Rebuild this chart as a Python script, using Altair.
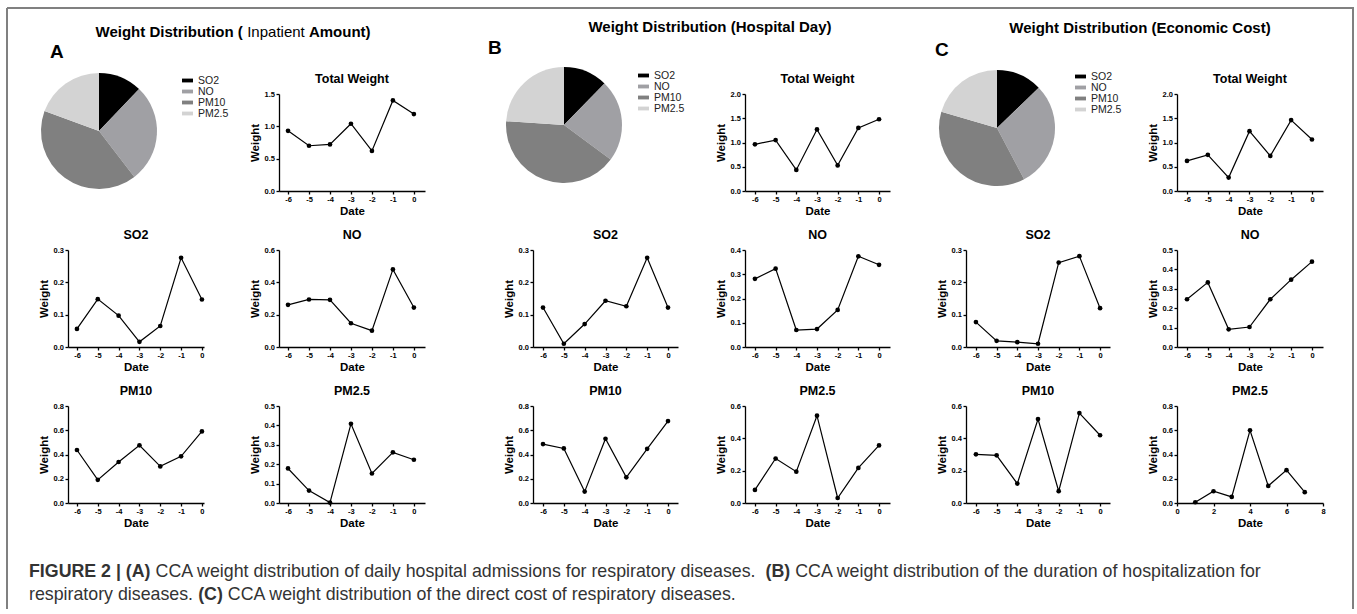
import altair as alt
import pandas as pd

FONT = "Liberation Sans"

dates = [-6, -5, -4, -3, -2, -1, 0]
dates_c_pm25 = [1, 2, 3, 4, 5, 6, 7]
pollutants = ["SO2", "NO", "PM10", "PM2.5"]
pie_colors = ["#000000", "#a0a0a4", "#808080", "#d3d3d3"]

# Panel A (Inpatient Amount)
a_total = [0.93, 0.70, 0.72, 1.04, 0.62, 1.40, 1.19]
a_so2 = [0.056, 0.148, 0.097, 0.016, 0.065, 0.276, 0.147]
a_no = [0.261, 0.294, 0.292, 0.147, 0.101, 0.480, 0.244]
a_pm10 = [0.437, 0.191, 0.338, 0.476, 0.302, 0.385, 0.590]
a_pm25 = [0.178, 0.064, 0.002, 0.408, 0.152, 0.261, 0.223]
# Panel B (Hospital Day)
b_total = [0.963, 1.05, 0.435, 1.27, 0.528, 1.30, 1.48]
b_so2 = [0.122, 0.010, 0.071, 0.143, 0.126, 0.276, 0.122]
b_no = [0.281, 0.323, 0.070, 0.074, 0.153, 0.374, 0.339]
b_pm10 = [0.486, 0.450, 0.094, 0.530, 0.212, 0.447, 0.676]
b_pm25 = [0.081, 0.275, 0.194, 0.540, 0.031, 0.217, 0.356]
# Panel C (Economic Cost)
c_total = [0.62, 0.745, 0.276, 1.234, 0.724, 1.462, 1.062]
c_so2 = [0.077, 0.019, 0.015, 0.010, 0.261, 0.281, 0.120]
c_no = [0.246, 0.333, 0.091, 0.103, 0.246, 0.347, 0.440]
c_pm10 = [0.301, 0.295, 0.120, 0.519, 0.073, 0.556, 0.419]
c_pm25 = [0.006, 0.097, 0.050, 0.600, 0.141, 0.271, 0.089]

# y tick labels
yt_a_total = [0.0, 0.5, 1.0, 1.5]
yt_a_so2 = [0.0, 0.1, 0.2, 0.3]
yt_a_no = [0.0, 0.2, 0.4, 0.6]
yt_a_pm10 = [0.0, 0.2, 0.4, 0.6, 0.8]
yt_a_pm25 = [0.0, 0.1, 0.2, 0.3, 0.4, 0.5]
yt_b_total = [0.0, 0.5, 1.0, 1.5, 2.0]
yt_b_so2 = [0.0, 0.1, 0.2, 0.3]
yt_b_no = [0.0, 0.1, 0.2, 0.3, 0.4]
yt_b_pm10 = [0.0, 0.2, 0.4, 0.6, 0.8]
yt_b_pm25 = [0.0, 0.2, 0.4, 0.6]
yt_c_total = [0.0, 0.5, 1.0, 1.5, 2.0]
yt_c_so2 = [0.0, 0.1, 0.2, 0.3]
yt_c_no = [0.0, 0.1, 0.2, 0.3, 0.4, 0.5]
yt_c_pm10 = [0.0, 0.2, 0.4, 0.6]
yt_c_pm25 = [0.0, 0.2, 0.4, 0.6, 0.8]
xt_c_pm25 = [0, 2, 4, 6, 8]

one = pd.DataFrame({"k": [0]})
H = 97


def line_chart(title, xs, ys, yticks, xdom, xticks, width):
    df = pd.DataFrame({"Date": xs, "Weight": ys})
    x = alt.X("Date:Q", scale=alt.Scale(domain=xdom, nice=False, zero=False),
              axis=alt.Axis(values=xticks, labelExpr="'' + datum.value", title="Date"))
    y = alt.Y("Weight:Q", scale=alt.Scale(domain=[0, yticks[-1]], nice=False),
              axis=alt.Axis(values=yticks, format=".1f", title="Weight"))
    base = alt.Chart(df)
    ln = base.mark_line(color="black", strokeWidth=1.2).encode(x=x, y=y)
    pt = base.mark_circle(color="black", size=22, opacity=1).encode(x=x, y=y)
    return alt.layer(ln, pt).properties(width=width, height=H, title=title)


def pie_chart(series, h, lx, ly):
    rows = []
    for i, (name, vals) in enumerate(zip(pollutants, series)):
        for v in vals:
            rows.append({"Pollutant": name, "idx": i, "Weight": v})
    df = pd.DataFrame(rows)
    return alt.Chart(df).mark_arc(radius=58).encode(
        theta=alt.Theta("sum(Weight):Q", stack=True),
        color=alt.Color("Pollutant:N",
                        scale=alt.Scale(domain=pollutants, range=pie_colors),
                        legend=alt.Legend(orient="none", legendX=lx, legendY=ly, title=None,
                                          symbolType="M-1,-0.35H1V0.35H-1Z", symbolSize=120,
                                          symbolStrokeWidth=0, labelFont=FONT, labelFontSize=10.5,
                                          labelColor="#222222", labelOffset=5, rowPadding=0,
                                          padding=0)),
        order=alt.Order("idx:Q", sort="ascending"),
    ).properties(width=62, height=h)


def txt(text, x, y, size, weight="bold", align="left", color="black"):
    return alt.Chart(pd.DataFrame({"t": [text]})).mark_text(
        align=align, baseline="middle", font=FONT, fontSize=size, fontWeight=weight, color=color
    ).encode(text="t:N", x=alt.value(x), y=alt.value(y))


def spacer(w):
    return alt.Chart(one).mark_point(opacity=0).encode(x=alt.value(0), y=alt.value(0)).properties(width=w, height=1)


border = "#808080"
frame = [
    alt.Chart(one).mark_rule(color=border, strokeWidth=2).encode(x=alt.value(-61), y=alt.value(-26), y2=alt.value(575)),
    alt.Chart(one).mark_rule(color=border, strokeWidth=2).encode(x=alt.value(1285), y=alt.value(-26), y2=alt.value(575)),
    alt.Chart(one).mark_rule(color=border, strokeWidth=2).encode(x=alt.value(-61), x2=alt.value(1286), y=alt.value(-26)),
]

cap_fs = 17.8
cap_col = "#333333"
caption = [
    txt("FIGURE 2 | (A)", -39, 538, cap_fs, "bold", color=cap_col),
    txt("CCA weight distribution of daily hospital admissions for respiratory diseases.", 87.6, 538, cap_fs, "normal", color=cap_col),
    txt("(B)", 697.6, 538, cap_fs, "bold", color=cap_col),
    txt("CCA weight distribution of the duration of hospitalization for", 727.2, 538, cap_fs, "normal", color=cap_col),
    txt("respiratory diseases.", -39, 561, cap_fs, "normal", color=cap_col),
    txt("(C)", 130.2, 561, cap_fs, "bold", color=cap_col),
    txt("CCA weight distribution of the direct cost of respiratory diseases.", 159.8, 561, cap_fs, "normal", color=cap_col),
]

hdrA = alt.layer(
    *frame,
    txt("Weight Distribution (", 27.5, -2.3, 15, "bold"),
    txt("Inpatient", 179.2, -2.3, 15, "normal"),
    txt("Amount)", 240.9, -2.3, 15, "bold"),
    txt("A", -18, 18, 19, "bold"),
    *caption,
).properties(width=211, height=1)
hdrB = alt.layer(
    txt("Weight Distribution (Hospital Day)", 177, -7.3, 15, "bold", align="center"),
    txt("B", -45, 14, 19, "bold"),
).properties(width=212, height=1)
hdrC = alt.layer(
    txt("Weight Distribution (Economic Cost)", 174, -6, 15, "bold", align="center"),
    txt("C", -31, 16, 19, "bold"),
).properties(width=211, height=1)

dl = [-6.43, 0.1]
dr = [-6.43, 0.53]
db = [-6.48, 0.48]
dbr = [-6.48, 0.53]

cells = [
    hdrA, spacer(254), hdrB, spacer(221), hdrC, spacer(146),
    pie_chart([a_so2, a_no, a_pm10, a_pm25], 74, 114, -19),
    line_chart("Total Weight", dates, a_total, yt_a_total, dr, dates, 146),
    pie_chart([b_so2, b_no, b_pm10, b_pm25], 62, 105, -24),
    line_chart("Total Weight", dates, b_total, yt_b_total, dbr, dates, 145),
    pie_chart([c_so2, c_no, c_pm10, c_pm25], 68, 109, -23),
    line_chart("Total Weight", dates, c_total, yt_c_total, dbr, dates, 146),
    line_chart("SO2", dates, a_so2, yt_a_so2, dl, dates, 136),
    line_chart("NO", dates, a_no, yt_a_no, dr, dates, 146),
    line_chart("SO2", dates, b_so2, yt_b_so2, db, dates, 145),
    line_chart("NO", dates, b_no, yt_b_no, dbr, dates, 145),
    line_chart("SO2", dates, c_so2, yt_c_so2, db, dates, 144),
    line_chart("NO", dates, c_no, yt_c_no, dbr, dates, 146),
    line_chart("PM10", dates, a_pm10, yt_a_pm10, dl, dates, 136),
    line_chart("PM2.5", dates, a_pm25, yt_a_pm25, dr, dates, 146),
    line_chart("PM10", dates, b_pm10, yt_b_pm10, db, dates, 145),
    line_chart("PM2.5", dates, b_pm25, yt_b_pm25, dbr, dates, 145),
    line_chart("PM10", dates, c_pm10, yt_c_pm10, db, dates, 144),
    line_chart("PM2.5", dates_c_pm25, c_pm25, yt_c_pm25, [0, 8], xt_c_pm25, 146),
]

chart = alt.concat(
    *cells, columns=6, spacing={"row": 59, "column": 0}, bounds="flush", align="each"
).resolve_scale(
    color="independent", theta="independent", x="independent", y="independent"
).resolve_legend(color="independent").properties(
    padding={"left": 6, "top": 7, "right": 0, "bottom": 0}, background="white"
).configure_view(stroke=None).configure_axis(
    grid=False, domainColor="black", domainWidth=1.3, tickColor="black", tickWidth=1.3,
    tickSize=3, labelFont=FONT, labelFontSize=7.5, labelFontWeight="bold", labelColor="black",
    labelPadding=1.5, labelFlush=False, labelOverlap=False,
    titleFont=FONT, titleFontSize=11.5, titleFontWeight="bold", titleColor="black",
).configure_axisY(titlePadding=4).configure_axisX(titlePadding=2).configure_title(
    font=FONT, fontSize=12.5, fontWeight="bold", color="black", offset=5, anchor="middle"
)

chart.save("out.html", embed_options={"renderer": "svg", "actions": False})
